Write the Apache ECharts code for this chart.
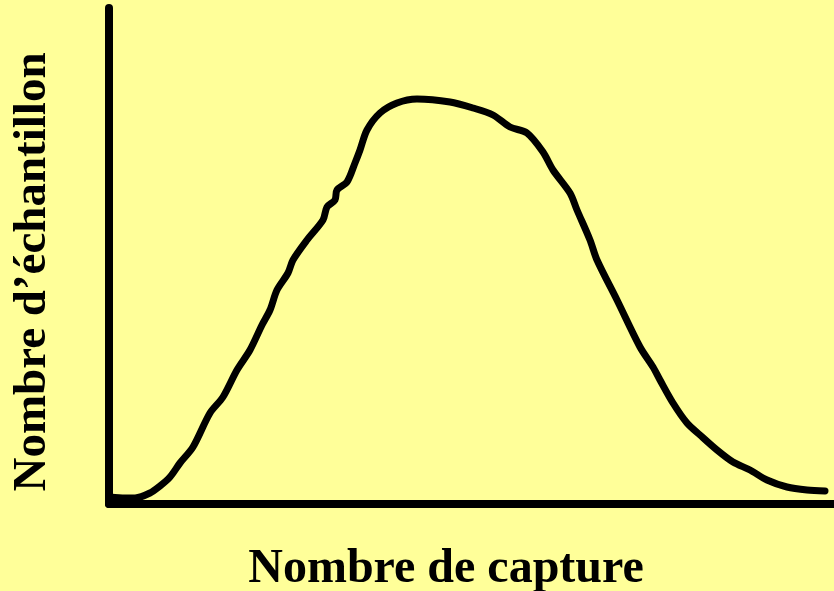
<!DOCTYPE html>
<html>
<head>
<meta charset="utf-8">
<script src="https://cdn.jsdelivr.net/npm/echarts@6/dist/echarts.min.js"></script>
<style>
  html, body { margin: 0; padding: 0; background: #ffff99; }
  #main { width: 834px; height: 591px; }
</style>
</head>
<body>
<div id="main"></div>
<script>
// curve (x: capture count, y: sample count, arbitrary units)
const captureVals = [1, 16, 26, 41, 51, 61, 71, 84, 101, 114, 128, 141, 153, 161, 168, 179, 184, 198, 214, 218,
  226, 228, 238, 246, 251, 258, 271, 288, 308, 341, 364, 384, 401, 418, 434, 444, 461, 468, 481, 488,
  508, 531, 544, 551, 564, 578, 591, 608, 624, 641, 658, 678, 698, 716];
const sampleVals = [7, 6, 6, 11, 18, 27, 41, 57, 91, 107, 134, 154, 179, 194, 214, 231, 244, 264, 284, 297,
  304, 314, 322, 341, 354, 374, 391, 401, 405, 402, 396, 389, 377, 371, 352, 334, 311, 294, 264, 244,
  204, 157, 137, 124, 101, 81, 69, 54, 42, 34, 24, 17, 14, 13];

const xTitle = 'Nombre de capture';
const yTitle = 'Nombre d\u2019échantillon';

const points = captureVals.map((x, i) => [x, sampleVals[i]]);

let myChart = echarts.init(document.getElementById('main'));

myChart.setOption({
  backgroundColor: '#ffff99',
  animation: false,
  grid: { left: 109, right: 0, top: 8, bottom: 87 },
  xAxis: {
    type: 'value', min: 0, max: 725,
    axisLine: { show: true, lineStyle: { color: '#000', width: 8 } },
    axisTick: { show: false }, axisLabel: { show: false }, splitLine: { show: false }
  },
  yAxis: {
    type: 'value', min: 0, max: 496,
    axisLine: { show: true, lineStyle: { color: '#000', width: 8 } },
    axisTick: { show: false }, axisLabel: { show: false }, splitLine: { show: false }
  },
  series: [{
    type: 'line',
    data: points,
    showSymbol: false,
    smooth: 0.3,
    lineStyle: { color: '#000', width: 7, cap: 'round', join: 'round' }
  }],
  graphic: [
    {
      type: 'text', x: 446, y: 570,
      style: {
        text: xTitle, fill: '#000',
        font: 'bold 48px "Liberation Serif", "Times New Roman", serif',
        textAlign: 'center', textVerticalAlign: 'middle'
      }
    },
    {
      type: 'text', x: 33, y: 272, rotation: Math.PI / 2,
      style: {
        text: yTitle, fill: '#000',
        font: 'bold 47px "Liberation Serif", "Times New Roman", serif',
        textAlign: 'center', textVerticalAlign: 'middle'
      }
    }
  ]
});
</script>
</body>
</html>
